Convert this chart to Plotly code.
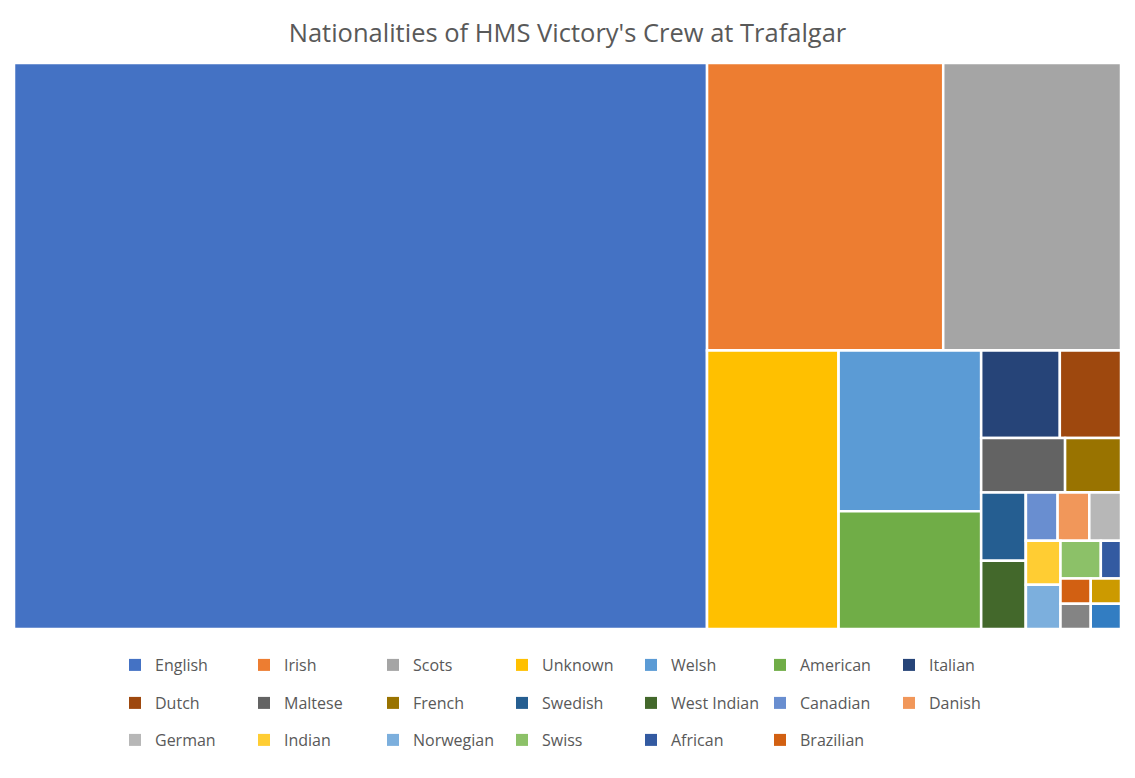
import plotly.graph_objects as go

# ---- data ----
categories = ["English", "Irish", "Scots", "Unknown", "Welsh", "American", "Italian",
              "Dutch", "Maltese", "French", "Swedish", "West Indian", "Canadian", "Danish",
              "German", "Indian", "Norwegian", "Swiss", "African", "Brazilian",
              "Portuguese", "Russian", "Prussian"]
counts = [514, 89, 67, 48, 30, 22, 9, 7, 6, 4, 4, 4, 2, 2, 2, 2, 2, 2, 1, 1, 1, 1, 1]
colors = ["#4472C4", "#ED7D31", "#A5A5A5", "#FFC000", "#5B9BD5", "#70AD47", "#264478",
          "#9E480E", "#636363", "#997300", "#255E91", "#43682B", "#698ED0", "#F1975A",
          "#B7B7B7", "#FFCD33", "#7CAFDD", "#8CC168", "#335AA1", "#D26012",
          "#848484", "#CC9A00", "#327DC2"]
legend_count = 20  # the reference legend lists the first 20 categories

# tiling groups (hierarchy used only to reproduce the Excel tile arrangement)
leaf_parent = ["", "", "", "lower", "right", "right", "small", "small", "small", "small",
               "small", "small", "cdg", "cdg", "cdg", "tail2", "tail2", "tail2", "tail2",
               "tail2", "tail2", "tail2", "tail2"]
group_ids = ["lower", "right", "small", "tail", "cdg", "tail2"]
group_parents = ["", "lower", "right", "small", "tail", "tail"]

ids = categories + group_ids
labels = categories + [""] * len(group_ids)
parents = leaf_parent + group_parents
values = counts + [0] * len(group_ids)
node_colors = colors + ["#FFFFFF"] * len(group_ids)

fig = go.Figure()
fig.add_trace(go.Treemap(
    ids=ids, labels=labels, parents=parents, values=values,
    branchvalues="remainder", sort=False,
    tiling=dict(packing="squarify", squarifyratio=1, pad=0),
    marker=dict(colors=node_colors, line=dict(color="#FFFFFF", width=2.5),
                pad=dict(t=0, l=0, r=0, b=0), depthfade=False),
    root=dict(color="#FFFFFF"),
    pathbar=dict(visible=False),
    textinfo="none",
    hovertemplate="%{label}: %{value}<extra></extra>",
))

# legend entries (three rows of seven)
legend_names = ["legend", "legend2", "legend3"]
for i in range(legend_count):
    fig.add_trace(go.Scatter(
        x=[None], y=[None], mode="markers", name=categories[i],
        marker=dict(symbol="square", size=12, color=colors[i]),
        legend=legend_names[i // 7], showlegend=True, hoverinfo="skip",
    ))

W, H = 1135, 778
ml, mr, mt, mb = 14, 14, 63, 149
pw, ph = W - ml - mr, H - mt - mb


def px_to_paper_x(px):
    return (px - ml) / pw


def py_to_paper_y(py):
    return (H - mb - py) / ph


legend_font = dict(family="Open Sans, Noto Sans, sans-serif", size=16, color="#595959")
row_y = [665, 703, 740]
legend_common = dict(orientation="h", entrywidth=84, entrywidthmode="pixels",
                     xanchor="left", yanchor="middle", font=legend_font,
                     bgcolor="rgba(0,0,0,0)", borderwidth=0, traceorder="normal")

fig.update_layout(
    width=W, height=H,
    margin=dict(l=ml, r=mr, t=mt, b=mb),
    paper_bgcolor="#FFFFFF", plot_bgcolor="#FFFFFF",
    title=dict(text="Nationalities of HMS Victory's Crew at Trafalgar",
               x=0.5, xanchor="center", xref="container",
               y=1 - 33 / H, yanchor="middle", yref="container",
               font=dict(family="Open Sans, Noto Sans, sans-serif", size=25.5, color="#595959")),
    xaxis=dict(visible=False), yaxis=dict(visible=False),
    legend=dict(x=px_to_paper_x(115), y=py_to_paper_y(row_y[0]), **legend_common),
    legend2=dict(x=px_to_paper_x(115), y=py_to_paper_y(row_y[1]), **legend_common),
    legend3=dict(x=px_to_paper_x(115), y=py_to_paper_y(row_y[2]), **legend_common),
)

fig.write_html("out.html", config={"displayModeBar": False},
               post_script="document.body.style.margin='0';document.body.style.padding='0';")
